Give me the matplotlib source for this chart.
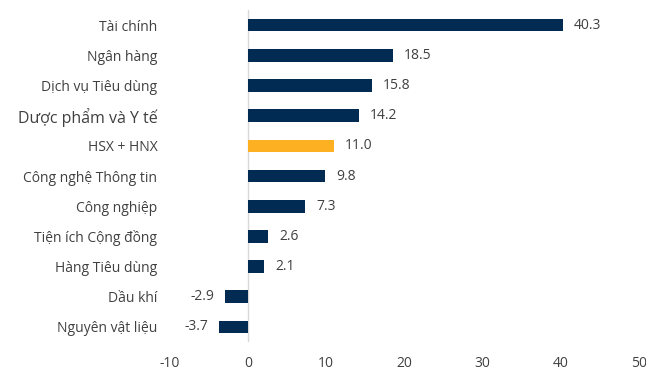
import matplotlib.pyplot as plt

categories = ['Tài chính', 'Ngân hàng', 'Dịch vụ Tiêu dùng', 'Dược phẩm và Y tế',
              'HSX + HNX', 'Công nghệ Thông tin', 'Công nghiệp', 'Tiện ích Cộng đồng',
              'Hàng Tiêu dùng', 'Dầu khí', 'Nguyên vật liệu']
values = [40.3, 18.5, 15.8, 14.2, 11.0, 9.8, 7.3, 2.6, 2.1, -2.9, -3.7]
highlight = 'HSX + HNX'
x_ticks = [-10, 0, 10, 20, 30, 40, 50]

NAVY = '#022b54'
ORANGE = '#fdb022'
TEXT = '#404040'

plt.rcParams['font.family'] = ['Open Sans', 'DejaVu Sans']

fig = plt.figure(figsize=(6.46, 3.71), dpi=100)
ax = fig.add_axes([0.263, 0.078, 0.726, 0.895])

ys = list(range(len(categories)))[::-1]
colors = [ORANGE if c == highlight else NAVY for c in categories]
ax.barh(ys, values, height=0.42, color=colors, zorder=2)

for y, v in zip(ys, values):
    if v >= 0:
        ax.annotate(f'{v:.1f}', (v, y), xytext=(8, 0), textcoords='offset points',
                    ha='left', va='center', fontsize=10, color=TEXT)
    else:
        ax.annotate(f'{v:.1f}', (v, y), xytext=(-8, 0), textcoords='offset points',
                    ha='right', va='center', fontsize=10, color=TEXT)

ax.set_xlim(-10, 50)
ax.set_ylim(-0.5, len(categories) - 0.5)
ax.set_xticks(x_ticks)
ax.set_xticklabels([str(t) for t in x_ticks], fontsize=10, color=TEXT)
ax.set_yticks(ys)
ax.set_yticklabels(categories, fontsize=10, color=TEXT)
for lbl in ax.get_yticklabels():
    if lbl.get_text() == 'Dược phẩm và Y tế':
        lbl.set_fontsize(11.5)

ax.tick_params(axis='both', length=0)
ax.tick_params(axis='y', pad=9)
ax.tick_params(axis='x', pad=10)
for s in ax.spines.values():
    s.set_visible(False)
ax.axvline(0, color='#d9d9d9', lw=1, zorder=1)

fig.savefig('out.png', dpi=100)
